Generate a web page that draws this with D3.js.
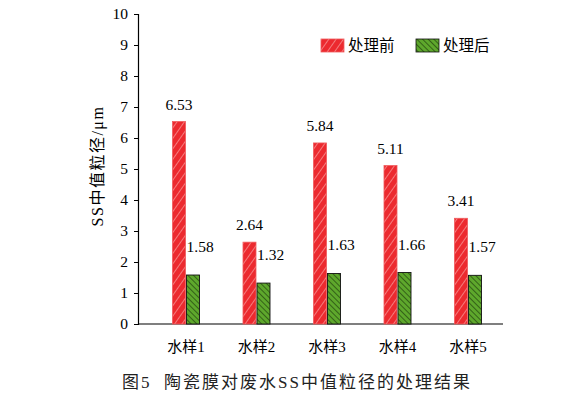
<!DOCTYPE html>
<html>
<head>
<meta charset="utf-8">
<script src="https://cdn.jsdelivr.net/npm/d3@7"></script>
<style>
  body { margin: 0; background: #fff; }
  text { font-family: "Liberation Serif", "Noto Sans CJK SC", serif; }
</style>
</head>
<body>
<div id="chart"></div>
<script>
// data
var samples = ["水样1", "水样2", "水样3", "水样4", "水样5"];
var before = [6.53, 2.64, 5.84, 5.11, 3.41];
var after = [1.58, 1.32, 1.63, 1.66, 1.57];
var seriesNames = ["处理前", "处理后"];
var yTicks = [0, 1, 2, 3, 4, 5, 6, 7, 8, 9, 10];

var W = 562, H = 399;
var margin = {left: 138, top: 14, right: 59, bottom: 75};
var width = W - margin.left - margin.right, height = H - margin.top - margin.bottom;

var svg = d3.select("#chart").append("svg")
    .attr("width", W).attr("height", H);

var defs = svg.append("defs");
var pr = defs.append("pattern").attr("id", "hatchRed")
    .attr("patternUnits", "userSpaceOnUse").attr("width", 6).attr("height", 6)
    .attr("patternTransform", "rotate(35)");
pr.append("rect").attr("width", 6).attr("height", 6).attr("fill", "#ec2a2f");
pr.append("line").attr("x1", 0).attr("y1", 0).attr("x2", 0).attr("y2", 6)
    .attr("stroke", "#f9a9a9").attr("stroke-width", 1.3);

var pg = defs.append("pattern").attr("id", "hatchGreen")
    .attr("patternUnits", "userSpaceOnUse").attr("width", 4).attr("height", 4)
    .attr("patternTransform", "rotate(-45)");
pg.append("rect").attr("width", 4).attr("height", 4).attr("fill", "#5ea82c");
pg.append("line").attr("x1", 0).attr("y1", 0).attr("x2", 0).attr("y2", 4)
    .attr("stroke", "#1d3a0c").attr("stroke-width", 1.3);

var g = svg.append("g").attr("transform", "translate(" + margin.left + "," + margin.top + ")");

var x = d3.scalePoint().domain(samples).range([48, 330]);
var y = d3.scaleLinear().domain([0, 10]).range([height, 0]);
var barW = 13, gap = 1;

// y axis
var yAxis = g.append("g")
    .call(d3.axisLeft(y).tickValues(yTicks).tickSize(4).tickPadding(6).tickFormat(d3.format("d")));
yAxis.select(".domain").attr("stroke", "#000").attr("stroke-width", 1.2);
yAxis.selectAll(".tick line").attr("stroke", "#000");
yAxis.selectAll("text").attr("font-size", 15.5).attr("fill", "#000")
    .attr("font-family", "Liberation Serif");

// x axis line
g.append("line").attr("x1", 0).attr("x2", width).attr("y1", height).attr("y2", height)
    .attr("stroke", "#000").attr("stroke-width", 1.2);

// bars
var groups = g.selectAll(".grp").data(samples).enter().append("g")
    .attr("transform", function(d) { return "translate(" + x(d) + ",0)"; });

groups.append("rect")
    .attr("x", -barW - gap / 2)
    .attr("y", function(d, i) { return y(before[i]); })
    .attr("width", barW)
    .attr("height", function(d, i) { return height - y(before[i]); })
    .attr("fill", "url(#hatchRed)")
    .attr("stroke", "#f05a5c").attr("stroke-width", 0.8);

groups.append("rect")
    .attr("x", gap / 2)
    .attr("y", function(d, i) { return y(after[i]); })
    .attr("width", barW)
    .attr("height", function(d, i) { return height - y(after[i]); })
    .attr("fill", "url(#hatchGreen)")
    .attr("stroke", "#111").attr("stroke-width", 0.9);

// value labels
groups.append("text")
    .attr("x", -barW / 2 - gap / 2)
    .attr("y", function(d, i) { return y(before[i]) - 12; })
    .attr("text-anchor", "middle").attr("font-size", 15.5)
    .text(function(d, i) { return before[i].toFixed(2); });

groups.append("text")
    .attr("x", gap / 2)
    .attr("y", function(d, i) { return y(after[i]) - 23; })
    .attr("text-anchor", "start").attr("font-size", 15.5)
    .text(function(d, i) { return after[i].toFixed(2); });

// category labels
groups.append("text")
    .attr("x", 0).attr("y", height + 28)
    .attr("text-anchor", "middle").attr("font-size", 15)
    .attr("font-family", "Noto Sans CJK SC")
    .text(function(d) { return d; });

// y axis title
svg.append("text")
    .attr("transform", "translate(103,166) rotate(-90)")
    .attr("text-anchor", "middle").attr("font-size", 16)
    .attr("letter-spacing", 1.5)
    .attr("font-family", "Liberation Serif, Noto Sans CJK SC")
    .text("SS中值粒径/μm");

// legend
var legend = g.selectAll(".leg").data(seriesNames).enter().append("g")
    .attr("transform", function(d, i) { return "translate(" + (183 + i * 95) + ",25)"; });
legend.append("rect")
    .attr("width", 23).attr("height", 13)
    .attr("fill", function(d, i) { return i === 0 ? "url(#hatchRed)" : "url(#hatchGreen)"; })
    .attr("stroke", function(d, i) { return i === 0 ? "#f05a5c" : "#111"; })
    .attr("stroke-width", 0.8);
legend.append("text")
    .attr("x", 27).attr("y", 12).attr("font-size", 15.5)
    .attr("font-family", "Noto Sans CJK SC")
    .text(function(d) { return d; });

// caption
svg.append("text")
    .attr("x", 297).attr("y", 388).attr("text-anchor", "middle")
    .attr("font-size", 17).attr("letter-spacing", 2)
    .attr("font-family", "Noto Sans CJK SC").attr("fill", "#222")
    .attr("xml:space", "preserve")
    .text("图5  陶瓷膜对废水SS中值粒径的处理结果");
</script>
</body>
</html>
